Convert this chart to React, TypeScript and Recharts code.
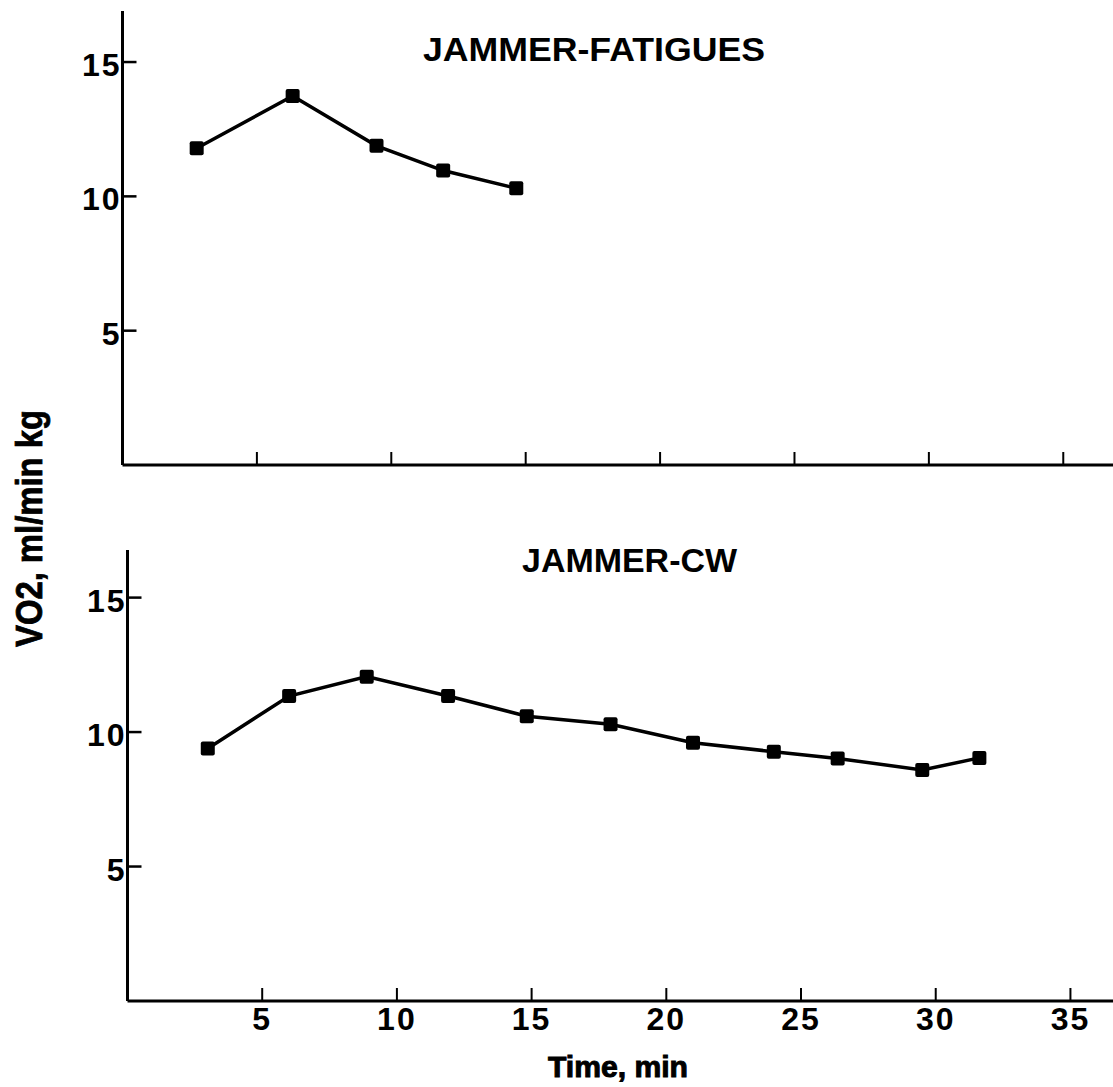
import React from 'react';
import { LineChart, Line, XAxis, YAxis } from 'recharts';

const fatiguesTime = [2.76, 6.33, 9.45, 11.93, 14.65];
const fatiguesVO2 = [11.79, 13.74, 11.88, 10.96, 10.3];
const cwTime = [2.98, 6.0, 8.88, 11.9, 14.82, 17.93, 20.99, 23.99, 26.36, 29.5, 31.62];
const cwVO2 = [9.39, 11.34, 12.06, 11.34, 10.59, 10.29, 9.6, 9.27, 9.02, 8.59, 9.04];
const xTicks = [5, 10, 15, 20, 25, 30, 35];
const yTicks = [5, 10, 15];
const topTitle = 'JAMMER-FATIGUES';
const bottomTitle = 'JAMMER-CW';
const xTitle = 'Time, min';
const yTitle = 'VO2, ml/min kg';

const fatiguesData = fatiguesTime.map((t, i) => ({ t, v: fatiguesVO2[i] }));
const cwData = cwTime.map((t, i) => ({ t, v: cwVO2[i] }));

const W = 1113;
const H = 1087;
const BOLD = "'Liberation Sans', Arial, sans-serif";
const DIGITS = "'Liberation Sans', Arial, sans-serif";

const YTick = (props: any) => {
  const { x, y, payload } = props;
  return (
    <g>
      <line x1={x} x2={x + 14} y1={y} y2={y} stroke="#000" strokeWidth={2.5} />
      <text x={x - 1} y={y + 3} textAnchor="end" dominantBaseline="central" fontFamily={DIGITS} fontWeight="bold" fontSize={32} letterSpacing={2} fill="#000">
        {payload.value}
      </text>
    </g>
  );
};

const XTickTop = (props: any) => {
  const { x, y } = props;
  return <line x1={x} x2={x} y1={y} y2={y - 13} stroke="#000" strokeWidth={2} />;
};

const XTickBottom = (props: any) => {
  const { x, y, payload } = props;
  return (
    <g>
      <line x1={x} x2={x} y1={y} y2={y - 13} stroke="#000" strokeWidth={2} />
      <text x={x} y={y + 18} textAnchor="middle" dominantBaseline="central" fontFamily={DIGITS} fontWeight="bold" fontSize={32} letterSpacing={2} fill="#000">
        {payload.value}
      </text>
    </g>
  );
};

const Square = (props: any) => {
  const { cx, cy, index } = props;
  if (cx == null || cy == null) return <g key={index} />;
  return <rect key={index} x={cx - 7} y={cy - 7} width={14} height={14} rx={2} fill="#000" />;
};

const YLabel = () => (
  <text
    x={28.5}
    y={542}
    transform="rotate(-90 28.5 528.5)"
    textAnchor="middle"
    fontFamily={BOLD}
    fontWeight="bold"
    fontSize={36}
    textLength={237}
    lengthAdjust="spacingAndGlyphs"
    fill="#000"
    stroke="#000"
    strokeWidth={0.8}
  >
    {yTitle}
  </text>
);

export default function App() {
  return (
    <div style={{ position: 'absolute', left: 0, top: 0, width: W, height: H, background: '#fff', overflow: 'hidden' }}>
      <div style={{ position: 'absolute', left: 0, top: 0 }}>
        <LineChart width={W} height={H} data={fatiguesData} margin={{ top: 11, right: 0, bottom: H - 465 - 1, left: 121.5 }}>
          <XAxis
            dataKey="t"
            type="number"
            domain={[0, 36.85]}
            allowDataOverflow
            ticks={xTicks}
            height={1}
            tickSize={0}
            tickMargin={0}
            tick={XTickTop}
            axisLine={{ stroke: '#000', strokeWidth: 3 }}
            tickLine={false}
          />
          <YAxis
            type="number"
            domain={[0, 16.9]}
            allowDataOverflow
            ticks={yTicks}
            width={1}
            tickSize={0}
            tickMargin={0}
            tick={YTick}
            axisLine={{ stroke: '#000', strokeWidth: 3 }}
            tickLine={false}
          />
          <Line dataKey="v" stroke="#000" strokeWidth={3.5} dot={Square} isAnimationActive={false} />
          <text x={423} y={61} fontFamily={BOLD} fontWeight="bold" fontSize={34} textLength={342} lengthAdjust="spacingAndGlyphs" fill="#000">
            {topTitle}
          </text>
        </LineChart>
      </div>
      <div style={{ position: 'absolute', left: 0, top: 0 }}>
        <LineChart width={W} height={H} data={cwData} margin={{ top: 550, right: 0, bottom: H - 1001 - 1, left: 126.5 }}>
          <XAxis
            dataKey="t"
            type="number"
            domain={[0, 36.58]}
            allowDataOverflow
            ticks={xTicks}
            height={1}
            tickSize={0}
            tickMargin={0}
            tick={XTickBottom}
            axisLine={{ stroke: '#000', strokeWidth: 3 }}
            tickLine={false}
          />
          <YAxis
            type="number"
            domain={[0, 16.77]}
            allowDataOverflow
            ticks={yTicks}
            width={1}
            tickSize={0}
            tickMargin={0}
            tick={YTick}
            axisLine={{ stroke: '#000', strokeWidth: 3 }}
            tickLine={false}
          />
          <Line dataKey="v" stroke="#000" strokeWidth={3.5} dot={Square} isAnimationActive={false} />
          <text x={522} y={572} fontFamily={BOLD} fontWeight="bold" fontSize={34} textLength={215} lengthAdjust="spacingAndGlyphs" fill="#000">
            {bottomTitle}
          </text>
          <text x={618} y={1077} textAnchor="middle" fontFamily={BOLD} fontWeight="bold" fontSize={30} textLength={140} lengthAdjust="spacingAndGlyphs" fill="#000" stroke="#000" strokeWidth={1}>
            {xTitle}
          </text>
          <YLabel />
        </LineChart>
      </div>
    </div>
  );
}
